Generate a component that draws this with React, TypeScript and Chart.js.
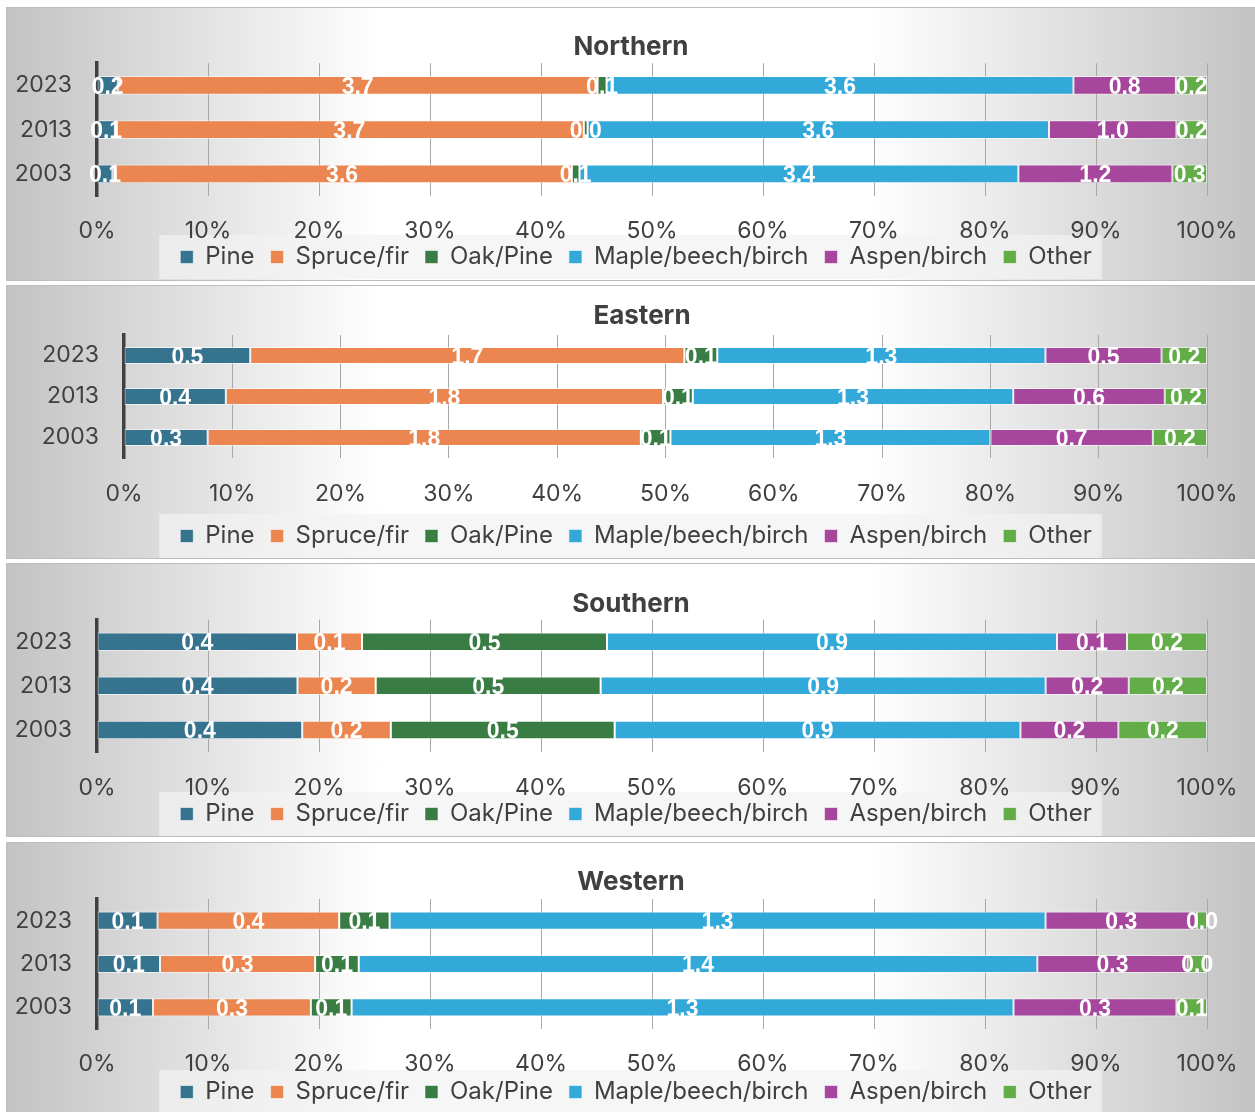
import React, { useEffect, useRef } from 'react';
import { Chart, registerables } from 'chart.js';

Chart.register(...registerables);

// ---------- data ----------
const years = ['2023', '2013', '2003'];
const forestTypes = ['Pine', 'Spruce/fir', 'Oak/Pine', 'Maple/beech/birch', 'Aspen/birch', 'Other'];
const typeColors = ['#35738F', '#EC8650', '#3A7D44', '#33A9DA', '#A6479D', '#62AD47'];
const regionNames = ['Northern', 'Eastern', 'Southern', 'Western'];
const percentTicks = [0, 10, 20, 30, 40, 50, 60, 70, 80, 90, 100];

// each row: one forest type, values for 2023, 2013, 2003
const northernPine = [0.16, 0.14, 0.12];
const northernSpruce = [3.7, 3.68, 3.58];
const northernOak = [0.07, 0.03, 0.06];
const northernMaple = [3.6, 3.62, 3.42];
const northernAspen = [0.79, 1.0, 1.2];
const northernOther = [0.24, 0.24, 0.27];

const easternPine = [0.5, 0.41, 0.34];
const easternSpruce = [1.72, 1.76, 1.76];
const easternOak = [0.13, 0.12, 0.12];
const easternMaple = [1.3, 1.29, 1.3];
const easternAspen = [0.46, 0.61, 0.66];
const easternOther = [0.18, 0.17, 0.22];

const southernPine = [0.4, 0.41, 0.44];
const southernSpruce = [0.13, 0.16, 0.19];
const southernOak = [0.49, 0.46, 0.48];
const southernMaple = [0.9, 0.91, 0.87];
const southernAspen = [0.14, 0.17, 0.21];
const southernOther = [0.16, 0.16, 0.19];

const westernPine = [0.12, 0.13, 0.11];
const westernSpruce = [0.36, 0.32, 0.31];
const westernOak = [0.1, 0.09, 0.08];
const westernMaple = [1.3, 1.4, 1.3];
const westernAspen = [0.3, 0.31, 0.32];
const westernOther = [0.02, 0.04, 0.06];

const regionSeries = [
  [northernPine, northernSpruce, northernOak, northernMaple, northernAspen, northernOther],
  [easternPine, easternSpruce, easternOak, easternMaple, easternAspen, easternOther],
  [southernPine, southernSpruce, southernOak, southernMaple, southernAspen, southernOther],
  [westernPine, westernSpruce, westernOak, westernMaple, westernAspen, westernOther],
];

// ---------- layout (not data) ----------
const PANEL_W = 1250;
const PANEL_H = 274;
const CANVAS_W = PANEL_W - 2;
const CANVAS_H = PANEL_H - 2;
const panelTops = [7, 285, 563, 842];
const panelLayouts = [
  { plotLeft: 90, titleTop: 24, titleBottom: 0, xHeight: 33, tickPad: 21.5, bottomPad: 1, titleShift: 0 },
  { plotLeft: 117, titleTop: 14.4, titleBottom: 3.4, xHeight: 50, tickPad: 22.5, bottomPad: 0, titleShift: 11 },
  { plotLeft: 90, titleTop: 24.4, titleBottom: 0, xHeight: 34, tickPad: 22.5, bottomPad: 0, titleShift: 0 },
  { plotLeft: 90, titleTop: 23.4, titleBottom: 1.4, xHeight: 35, tickPad: 21.5, bottomPad: 1, titleShift: 0 },
];
const LEGEND_SHIFT = 5;

const FONT = 'Inter';
const TEXT_COLOR = '#404040';

const blockShiftPlugin = {
  id: 'blockShift',
  afterLayout(chart: any, _args: any, opts: any) {
    const s = (opts && opts.title) || 0;
    if (s && chart.titleBlock) {
      chart.titleBlock.left += s;
      chart.titleBlock.right += s;
    }
    const l = (opts && opts.legend) || 0;
    if (l && chart.legend) {
      chart.legend.left += l;
      chart.legend.right += l;
    }
  },
};

const legendBoxPlugin = {
  id: 'legendBox',
  beforeDraw(chart: any) {
    const lg = chart.legend;
    if (!lg || !lg.legendHitBoxes || !lg.legendHitBoxes.length) return;
    const hb = lg.legendHitBoxes;
    let minX = Infinity;
    let maxX = -Infinity;
    hb.forEach((b: any) => {
      minX = Math.min(minX, b.left);
      maxX = Math.max(maxX, b.left + b.width);
    });
    const cy = hb[0].top + hb[0].height / 2;
    const ctx = chart.ctx;
    ctx.save();
    ctx.fillStyle = 'rgba(242,242,242,0.7)';
    ctx.fillRect(minX - 21, cy - 22, maxX - minX + 31, 44);
    ctx.restore();
  },
};

const segmentLabelPlugin = {
  id: 'segmentLabels',
  afterDatasetsDraw(chart: any) {
    const ctx = chart.ctx;
    ctx.save();
    ctx.font = 'bold 23px "Liberation Sans"';
    ctx.fillStyle = '#ffffff';
    ctx.textAlign = 'center';
    ctx.textBaseline = 'middle';
    chart.data.datasets.forEach((ds: any, di: number) => {
      const meta = chart.getDatasetMeta(di);
      meta.data.forEach((el: any, i: number) => {
        const p = el.getProps(['x', 'base', 'y'], true);
        const raw = ds.rawValues[i];
        ctx.fillText(raw.toFixed(1), (p.x + p.base) / 2, p.y + 2);
      });
    });
    ctx.restore();
  },
};

function RegionPanel({ index }: { index: number }) {
  const ref = useRef<HTMLCanvasElement | null>(null);
  useEffect(() => {
    if (!ref.current) return;
    const values = regionSeries[index];
    const lay = panelLayouts[index];
    const totals = years.map((_, i) => values.reduce((s, arr) => s + arr[i], 0));
    const datasets = forestTypes.map((name, t) => ({
      label: name,
      data: values[t].map((v, i) => (v / totals[i]) * 100),
      rawValues: values[t],
      backgroundColor: typeColors[t],
      borderColor: 'rgba(255,255,255,0.55)',
      borderWidth: 1,
      borderSkipped: false,
      barPercentage: 0.42,
      categoryPercentage: 1,
    }));
    const chart = new Chart(ref.current, {
      type: 'bar',
      data: { labels: years, datasets },
      plugins: [blockShiftPlugin, legendBoxPlugin, segmentLabelPlugin],
      options: {
        indexAxis: 'y',
        responsive: false,
        animation: false,
        layout: { padding: { left: 0, right: 0, top: 0, bottom: lay.bottomPad } },
        plugins: {
          blockShift: { title: lay.titleShift, legend: LEGEND_SHIFT },
          title: {
            display: true,
            text: regionNames[index],
            color: TEXT_COLOR,
            font: { family: FONT, size: 26, weight: 'bold' },
            padding: { top: lay.titleTop, bottom: lay.titleBottom },
          },
          legend: {
            position: 'bottom',
            labels: {
              boxWidth: 13,
              boxHeight: 13,
              padding: 16,
              color: TEXT_COLOR,
              font: { family: FONT, size: 24 },
            },
          },
          tooltip: { enabled: false },
        },
        scales: {
          x: {
            stacked: true,
            min: 0,
            max: 100,
            afterBuildTicks: (scale: any) => {
              scale.ticks = percentTicks.map((v) => ({ value: v }));
            },
            afterFit: (scale: any) => {
              scale.height = lay.xHeight;
              scale.paddingRight = 48;
              // let tick labels extend below the axis box (they sit under the legend panel)
              scale._computeLabelArea = () => null;
            },
            ticks: {
              autoSkip: false,
              maxRotation: 0,
              padding: lay.tickPad,
              color: TEXT_COLOR,
              font: { family: FONT, size: 23 },
              callback: (v: any) => v + '%',
            },
            grid: { color: '#a8a8a8', lineWidth: 1, drawTicks: false },
            border: { display: false },
          },
          y: {
            stacked: true,
            afterFit: (scale: any) => {
              scale.width = lay.plotLeft;
            },
            ticks: {
              padding: 25,
              color: TEXT_COLOR,
              font: { family: FONT, size: 23 },
            },
            grid: { display: false, drawTicks: false },
            border: { display: true, color: '#404040', width: 3.5 },
          },
        },
      } as any,
    });
    return () => chart.destroy();
  }, [index]);

  return (
    <div
      style={{
        position: 'absolute',
        left: 6,
        top: panelTops[index],
        width: PANEL_W,
        height: PANEL_H,
        boxSizing: 'border-box',
        border: '1px solid #bdbdbd',
        background:
          'linear-gradient(90deg, #c3c3c3 0%, #ffffff 30%, #ffffff 69%, #c3c3c3 100%)',
        overflow: 'hidden',
      }}
    >
      <canvas ref={ref} width={CANVAS_W} height={CANVAS_H} style={{ display: 'block' }} />
    </div>
  );
}

export default function App() {
  return (
    <div
      style={{
        position: 'absolute',
        left: 0,
        top: 0,
        width: 1255,
        height: 1112,
        overflow: 'hidden',
        background: '#ffffff',
      }}
    >
      {regionNames.map((_, i) => (
        <RegionPanel key={i} index={i} />
      ))}
    </div>
  );
}
